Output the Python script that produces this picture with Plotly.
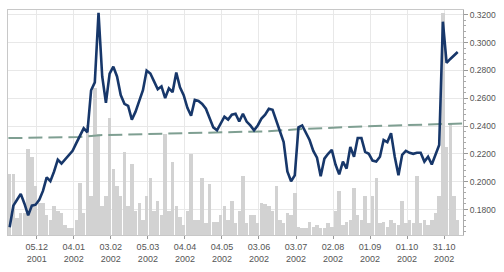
import pandas as pd
import plotly.graph_objects as go

# Price series, one reading every 3 days starting 2001-11-13
price_start = "2001-11-13"
price_step_days = 3
price = [
    0.1673, 0.1828, 0.1870, 0.1913, 0.1842, 0.1758, 0.1828, 0.1835, 0.1870, 0.1934,
    0.2032, 0.2004, 0.2074, 0.2159, 0.2131, 0.2159, 0.2194, 0.2222, 0.2278, 0.2335,
    0.2384, 0.2356, 0.2658, 0.2715, 0.3214, 0.2757, 0.2567, 0.2778, 0.2827, 0.2757,
    0.2623, 0.2560, 0.2546, 0.2447, 0.2504, 0.2581, 0.2658, 0.2799, 0.2778, 0.2722,
    0.2665, 0.2686, 0.2602, 0.2672, 0.2644, 0.2785, 0.2679, 0.2623, 0.2532, 0.2475,
    0.2588, 0.2581, 0.2560, 0.2525, 0.2454, 0.2391, 0.2370, 0.2419, 0.2468, 0.2447,
    0.2482, 0.2489, 0.2433, 0.2489, 0.2433, 0.2405, 0.2370, 0.2405, 0.2454, 0.2482,
    0.2525, 0.2518, 0.2440, 0.2363, 0.2285, 0.2074, 0.2004, 0.2046, 0.2391, 0.2405,
    0.2349, 0.2300, 0.2222, 0.2173, 0.2039, 0.2166, 0.2201, 0.2229, 0.2124, 0.2053,
    0.2145, 0.2095, 0.2250, 0.2180, 0.2314, 0.2314, 0.2215, 0.2201, 0.2152, 0.2145,
    0.2180, 0.2300, 0.2285, 0.2349, 0.2180, 0.2046, 0.2194, 0.2222, 0.2208, 0.2201,
    0.2208, 0.2208, 0.2145, 0.2180, 0.2124, 0.2194, 0.2264, 0.3151, 0.2855, 0.2883,
    0.2905, 0.2933,
]

# Volume (arbitrary units), same dates as price
volume = [
    62, 62, 17, 23, 23, 88, 80, 50, 33, 33,
    20, 15, 30, 25, 23, 10, 7, 7, 15, 53,
    23, 112, 40, 150, 103, 30, 40, 120, 67, 50,
    40, 85, 30, 73, 25, 33, 15, 40, 58, 25,
    35, 20, 103, 25, 75, 30, 18, 10, 25, 83,
    15, 15, 58, 12, 52, 13, 13, 20, 30, 15,
    35, 12, 25, 60, 12, 20, 20, 12, 33, 32,
    30, 25, 50, 15, 12, 22, 20, 43, 8, 7,
    7, 13, 8, 10, 7, 7, 12, 8, 25, 45,
    10, 13, 15, 48, 20, 15, 40, 12, 40, 58,
    12, 13, 8, 15, 12, 10, 35, 12, 15, 12,
    60, 12, 15, 10, 15, 23, 40, 227, 90, 113,
    40, 15,
]

# Long moving average (dashed)
ma_dates = ["2001-11-12", "2002-01-08", "2002-01-25", "2002-03-30",
            "2002-06-10", "2002-07-04", "2002-08-26", "2002-11-15"]
ma_values = [0.2314, 0.2321, 0.2335, 0.2349, 0.2363, 0.2377, 0.2398, 0.2419]

tick_dates = ["2001-12-05", "2002-01-04", "2002-02-03", "2002-03-05", "2002-04-04",
              "2002-05-04", "2002-06-03", "2002-07-03", "2002-08-02", "2002-09-01",
              "2002-10-01", "2002-10-31"]
tick_labels = ["05.12<br>2001", "04.01<br>2002", "03.02<br>2002", "05.03<br>2002",
               "04.04<br>2002", "04.05<br>2002", "03.06<br>2002", "03.07<br>2002",
               "02.08<br>2002", "01.09<br>2002", "01.10<br>2002", "31.10<br>2002"]
y_ticks = [0.18, 0.20, 0.22, 0.24, 0.26, 0.28, 0.30, 0.32]
y_labels = ["0.1800", "0.2000", "0.2200", "0.2400", "0.2600", "0.2800", "0.3000", "0.3200"]

dates = pd.date_range(price_start, periods=len(price), freq=f"{price_step_days}D")

fig = go.Figure()
fig.add_trace(go.Bar(
    x=dates, y=volume, yaxis="y",
    marker=dict(color="#d2d2d2", line=dict(width=0)),
    width=2.8 * 24 * 3600 * 1000, showlegend=False, hoverinfo="skip",
))
fig.add_trace(go.Scatter(
    x=ma_dates, y=ma_values, yaxis="y2", mode="lines",
    line=dict(color="#7f9f92", width=2, dash="14px,6px"), showlegend=False,
))
fig.add_trace(go.Scatter(
    x=dates, y=price, yaxis="y2", mode="lines",
    line=dict(color="#17376a", width=2.6), showlegend=False,
))

font = dict(family="Liberation Sans, Arial, sans-serif", size=9, color="#555555")
yfont = dict(family="Liberation Sans, Arial, sans-serif", size=8.5, color="#555555")

fig.update_layout(
    width=504, height=272,
    margin=dict(l=8, r=38, t=10, b=32),
    paper_bgcolor="white", plot_bgcolor="white",
    bargap=0,
    font=font,
    xaxis=dict(
        type="date",
        range=["2001-11-11 16:00", "2002-11-15 07:00"],
        tickmode="array", tickvals=tick_dates, ticktext=tick_labels,
        ticks="outside", ticklen=3, tickcolor="#999999",
        showgrid=True, gridcolor="#e8e8e8", gridwidth=1,
        showline=True, linecolor="#c8c8c8", mirror=True,
        tickfont=font, tickangle=0,
    ),
    yaxis=dict(
        range=[0, 230], showgrid=False, showticklabels=False,
        showline=True, linecolor="#c8c8c8", zeroline=False,
    ),
    yaxis2=dict(
        overlaying="y", side="right",
        range=[0.1617, 0.3235],
        tickmode="array", tickvals=y_ticks, ticktext=y_labels,
        ticks="outside", ticklen=4, tickcolor="#999999",
        minor=dict(dtick=0.004, ticks="outside", ticklen=2, tickcolor="#aaaaaa", showgrid=False),
        showgrid=True, gridcolor="#e8e8e8", gridwidth=1,
        showline=True, linecolor="#aaaaaa", zeroline=False,
        tickfont=yfont,
    ),
)

fig.write_html(
    "out.html",
    config={"displayModeBar": False},
    post_script="document.body.style.margin='0';",
)
